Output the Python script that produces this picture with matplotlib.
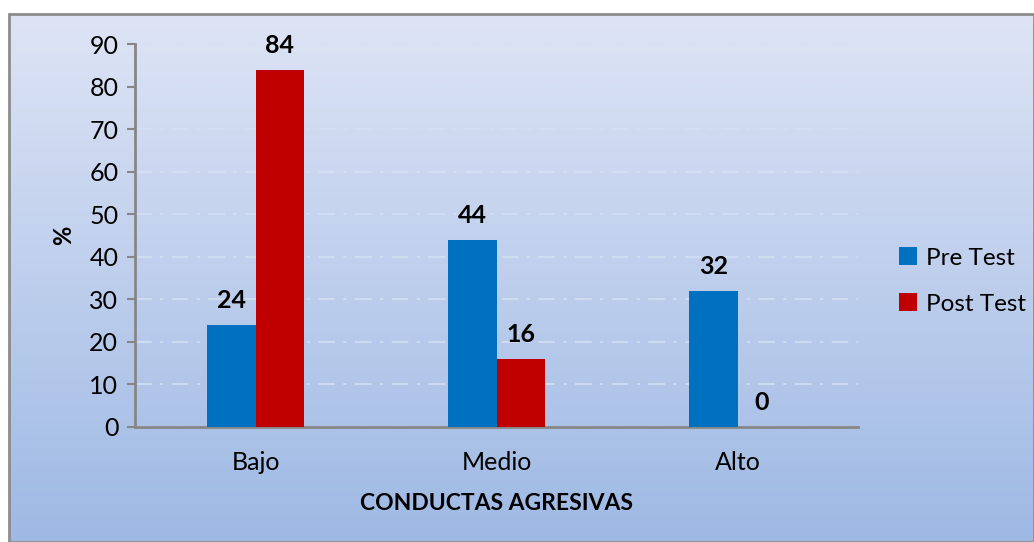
import matplotlib
matplotlib.use("Agg")
import matplotlib.pyplot as plt
import numpy as np
from matplotlib.patches import Rectangle

categories = ["Bajo", "Medio", "Alto"]
pre_test = [24, 44, 32]
post_test = [84, 16, 0]
series_names = ["Pre Test", "Post Test"]
yticks = [0, 10, 20, 30, 40, 50, 60, 70, 80, 90]

plt.rcParams['font.family'] = ['Lato', 'DejaVu Sans']

W, H = 1034, 542
fig = plt.figure(figsize=(W / 100, H / 100), dpi=100)
fig.patch.set_facecolor('white')

# gradient background panel
bg = fig.add_axes([9 / W, 0, 1 - 9 / W, 1 - 14 / H])
bg.set_axis_off()
top = np.array([222, 228, 245]) / 255
bot = np.array([158, 185, 228]) / 255
t = np.linspace(0, 1, 256)[:, None]
grad = top[None, :] * (1 - t) + bot[None, :] * t
bg.imshow(grad[:, None, :], aspect='auto', extent=[0, 1, 0, 1])
bg.set_xlim(0, 1)
bg.set_ylim(0, 1)
bg.add_patch(Rectangle((0, 0), 1, 1, transform=bg.transAxes, fill=False,
                       edgecolor='#8C8C8C', linewidth=2.0, clip_on=False))

ax = fig.add_axes([135 / W, (H - 427) / H, (858 - 135) / W, (427 - 44) / H])
ax.patch.set_alpha(0)

x = np.arange(len(categories))
w = 0.2
b1 = ax.bar(x - w / 2, pre_test, w, color='#0070C0', label=series_names[0], zorder=3)
b2 = ax.bar(x + w / 2, post_test, w, color='#C00000', label=series_names[1], zorder=3)

for bars in (b1, b2):
    for r in bars:
        h = r.get_height()
        ax.annotate(f"{h:g}", (r.get_x() + r.get_width() / 2, h),
                    xytext=(0, 9), textcoords='offset points', ha='center', va='bottom',
                    fontsize=18, fontweight='bold', color='black')

ax.set_xlim(-0.5, 2.5)
ax.set_ylim(0, 90)
ax.set_yticks(yticks)
ax.set_xticks(x)
ax.set_xticklabels(categories)
ax.tick_params(axis='y', labelsize=18, length=6, color='#868686', width=1.5, pad=6)
ax.tick_params(axis='x', labelsize=18, length=0, pad=17)
for s in ['top', 'right']:
    ax.spines[s].set_visible(False)
for s in ['left', 'bottom']:
    ax.spines[s].set_color('#868686')
    ax.spines[s].set_linewidth(2)

ax.yaxis.grid(True, color='#D3E0F4', linestyle=(0, (10, 5, 2, 5)), linewidth=1.2, zorder=0)
ax.set_axisbelow(True)

ax.set_ylabel('%', fontsize=17, fontweight='bold', labelpad=10)
ax.set_xlabel('CONDUCTAS AGRESIVAS', fontsize=16.5, fontweight='bold', labelpad=14)

leg = fig.legend(handles=[b1, b2], labels=series_names, loc='center left',
                 bbox_to_anchor=(899 / W, 1 - 281 / H), frameon=False, fontsize=17.5,
                 borderpad=0, borderaxespad=0,
                 handlelength=0.75, handleheight=0.75, handletextpad=0.35, labelspacing=1.0)

fig.savefig('out.png', dpi=100)
